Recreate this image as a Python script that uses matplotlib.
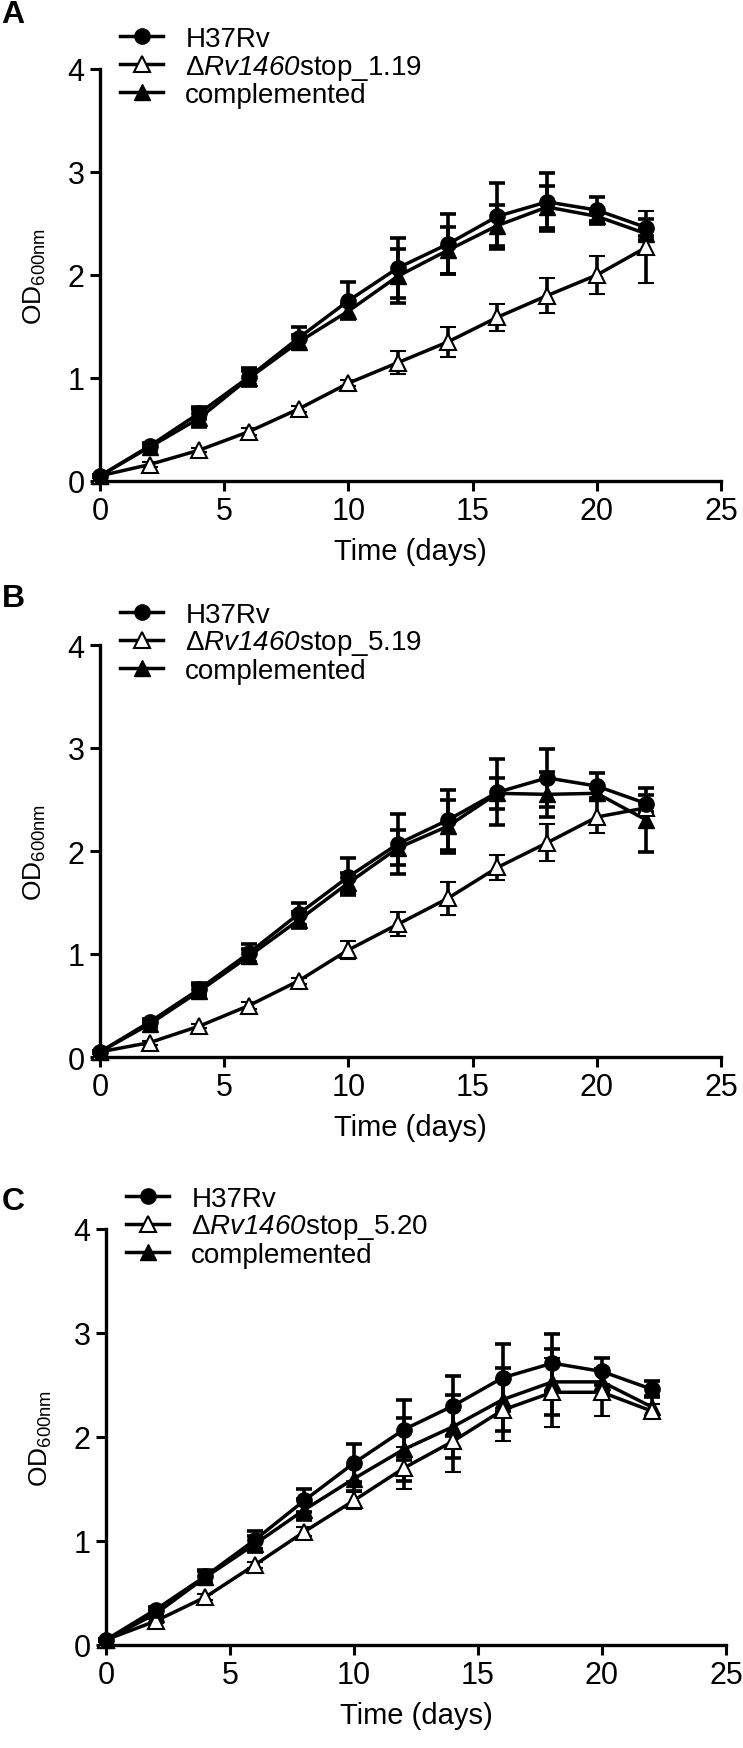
import matplotlib
matplotlib.use("Agg")
import matplotlib.pyplot as plt
from matplotlib.lines import Line2D

plt.rcParams['font.family'] = 'Liberation Sans'
plt.rcParams['mathtext.fontset'] = 'custom'
plt.rcParams['mathtext.rm'] = 'Liberation Sans'
plt.rcParams['mathtext.it'] = 'Liberation Sans:italic'
# \mathbf sert ici d'italique pour que les chiffres de Rv1460 soient aussi penchés
plt.rcParams['mathtext.bf'] = 'Liberation Sans:italic'

# === Données ===
jours = [0, 2, 4, 6, 8, 10, 12, 14, 16, 18, 20, 22]

h37rv = [0.05, 0.34, 0.66, 1.01, 1.39, 1.75, 2.07, 2.30, 2.57, 2.71, 2.63, 2.46]
h37rv_sd = [0.01, 0.03, 0.06, 0.09, 0.11, 0.18, 0.29, 0.29, 0.32, 0.28, 0.13, 0.08]

mut_a = [0.05, 0.16, 0.30, 0.48, 0.70, 0.95, 1.15, 1.35, 1.59, 1.80, 2.00, 2.27]
mut_a_sd = [0.01, 0.02, 0.02, 0.03, 0.03, 0.03, 0.11, 0.15, 0.13, 0.17, 0.18, 0.35]
comp_a = [0.05, 0.33, 0.61, 1.00, 1.35, 1.65, 1.99, 2.24, 2.48, 2.66, 2.57, 2.40]
comp_a_sd = [0.01, 0.03, 0.09, 0.07, 0.07, 0.07, 0.26, 0.23, 0.20, 0.20, 0.05, 0.06]

mut_b = [0.05, 0.14, 0.30, 0.50, 0.74, 1.04, 1.29, 1.54, 1.84, 2.08, 2.33, 2.42]
mut_b_sd = [0.01, 0.02, 0.02, 0.03, 0.03, 0.09, 0.12, 0.16, 0.12, 0.18, 0.16, 0.05]
comp_b = [0.05, 0.32, 0.64, 0.98, 1.33, 1.69, 2.03, 2.24, 2.56, 2.55, 2.56, 2.30]
comp_b_sd = [0.01, 0.03, 0.06, 0.07, 0.08, 0.10, 0.17, 0.26, 0.15, 0.22, 0.05, 0.31]

mut_c = [0.05, 0.23, 0.46, 0.77, 1.09, 1.39, 1.70, 1.96, 2.26, 2.43, 2.43, 2.25]
mut_c_sd = [0.01, 0.02, 0.03, 0.03, 0.04, 0.08, 0.20, 0.30, 0.30, 0.33, 0.23, 0.07]
comp_c = [0.05, 0.30, 0.65, 0.97, 1.30, 1.60, 1.88, 2.10, 2.36, 2.53, 2.53, 2.29]
comp_c_sd = [0.01, 0.03, 0.06, 0.08, 0.10, 0.12, 0.30, 0.30, 0.30, 0.32, 0.10, 0.10]

lettres = ["A", "B", "C"]
noms_mutants = ["1.19", "5.19", "5.20"]
xticks = [0, 5, 10, 15, 20, 25]
yticks = [0, 1, 2, 3, 4]

W, H = 743, 1749
fig = plt.figure(figsize=(W / 100, H / 100), dpi=100)

# positions des panneaux en pixels : gauche, droite, haut (y=4), bas (y=0), lettre
panneaux = [
    (100, 721, 70, 482, 0),
    (100, 721, 646, 1058, 584),
    (106, 726, 1230, 1646, 1187),
]
series = [
    (mut_a, mut_a_sd, comp_a, comp_a_sd),
    (mut_b, mut_b_sd, comp_b, comp_b_sd),
    (mut_c, mut_c_sd, comp_c, comp_c_sd),
]

lw = 2.5
style_err = dict(color="black", lw=lw, elinewidth=2.6, capsize=5.5, capthick=2.6,
                 clip_on=False)

for i, (g, d, h, b, ylettre) in enumerate(panneaux):
    ax = fig.add_axes([g / W, 1 - b / H, (d - g) / W, (b - h) / H])
    mut, mut_sd, comp, comp_sd = series[i]

    ax.errorbar(jours, comp, yerr=comp_sd, marker="^", ms=12, mfc="black", mec="black", **style_err)
    ax.errorbar(jours, mut, yerr=mut_sd, marker="^", ms=12, mfc="white", mec="black", mew=1.5, **style_err)
    ax.errorbar(jours, h37rv, yerr=h37rv_sd, marker="o", ms=11, mfc="black", mec="black", **style_err)

    ax.set_xlim(0, 25)
    ax.set_ylim(0, 4)
    ax.set_xticks(xticks)
    ax.set_yticks(yticks)
    for s in ["top", "right"]:
        ax.spines[s].set_visible(False)
    for s in ["left", "bottom"]:
        ax.spines[s].set_linewidth(2.4)
    ax.tick_params(direction="out", length=7, width=2.2, labelsize=22, pad=4)

    ax.set_xlabel("Time (days)", fontsize=21, labelpad=8)
    ax.set_ylabel(r"OD$_{\mathrm{600nm}}$", fontsize=19, labelpad=14)

    poignees = [
        Line2D([0], [0], color="black", lw=lw, marker="o", ms=11),
        Line2D([0], [0], color="black", lw=lw, marker="^", ms=12, mfc="white", mew=1.5),
        Line2D([0], [0], color="black", lw=lw, marker="^", ms=12),
    ]
    etiquettes = ["H37Rv", r"$\Delta\mathbf{Rv1460}$stop_" + noms_mutants[i], "complemented"]
    ax.legend(poignees, etiquettes, loc="center left",
              bbox_to_anchor=((g + 20) / W, 1 - (h - 2) / H), bbox_transform=fig.transFigure,
              frameon=False, borderpad=0, borderaxespad=0, handlelength=1.55,
              handletextpad=0.8, labelspacing=0.02, fontsize=20)

    fig.text(0.002, 1 - ylettre / H, lettres[i], fontsize=23, fontweight="bold", va="top", ha="left")

fig.savefig("out.png", dpi=100)
